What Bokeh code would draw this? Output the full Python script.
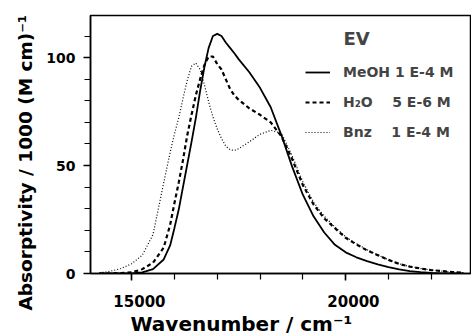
from bokeh.plotting import figure
from bokeh.models import Range1d, FixedTicker, Legend, LegendItem, Label, Title
from bokeh.embed import file_html
from bokeh.resources import INLINE

# Wavenumber grid (cm^-1)
wavenumber = [14250, 14500, 14750, 15000, 15250, 15500, 15750, 15900, 16000, 16100,
              16200, 16300, 16400, 16500, 16600, 16700, 16800, 16900, 17000, 17100,
              17200, 17300, 17400, 17500, 17750, 18000, 18250, 18500, 18750, 19000,
              19250, 19500, 19750, 20000, 20250, 20500, 20750, 21000, 21250, 21500,
              21750, 22000, 22250, 22500, 22750]

# Absorptivity / 1000 (M cm)^-1
meoh = [0.0, 0.0, 0.0, 0.1, 0.5, 2.0, 6.5, 13, 21, 29.5,
        40, 50.5, 61, 72, 84.5, 95.5, 104.5, 110, 111, 110,
        107, 104.5, 102, 99.3, 93.2, 86, 77, 64, 49.5, 36.5,
        26.5, 19, 13.3, 9.8, 7.5, 5.7, 4.2, 3.0, 1.9, 1.1,
        0.6, 0.3, 0.1, 0.0, 0.0]
h2o = [0.0, 0.0, 0.2, 0.5, 2.0, 5.0, 12, 22.5, 32.5, 42,
       52.5, 64, 73.5, 82.5, 90, 96.5, 100.5, 100.5, 97, 94.5,
       90, 85.5, 82.5, 80.5, 76.5, 73.5, 70, 63.5, 53, 41,
       32, 25.5, 21, 16.5, 13.5, 10.7, 8.5, 6.3, 4.4, 3.2,
       2.3, 1.6, 1.1, 0.7, 0.4]
bnz = [0.3, 1.0, 2.3, 4.5, 8.5, 18, 42, 56, 64.5, 72,
       81, 89.5, 96, 97.5, 94.5, 87.5, 79.5, 72.5, 67, 62.5,
       59, 57.3, 57, 57.8, 61, 64.5, 66.3, 65, 54.5, 42.5,
       33, 26.5, 21.5, 17, 13.8, 11, 8.6, 6.4, 4.5, 3.2,
       2.3, 1.6, 1.1, 0.7, 0.4]

series_labels = ["MeOH 1 E-4 M", "H\u2082O\u00a0\u00a0\u00a0\u00a05 E-6 M", "Bnz\u00a0\u00a0\u00a0\u00a01 E-4 M"]
legend_title = "EV"
x_title = "Wavenumber / cm\u207b\u00b9"
y_title = "Absorptivity / 1000 (M cm)\u207b\u00b9"
x_major = [15000, 20000]
x_major_labels = ["15000", "20000"]
x_minor = [14000, 15000, 16000, 17000, 18000, 19000, 20000, 21000, 22000]
y_major = [0, 50, 100]
y_minor = [0, 10, 20, 30, 40, 50, 60, 70, 80, 90, 100, 110]

FONT = "DejaVu Sans"

p = figure(width=471, height=335, output_backend="svg", toolbar_location=None,
           x_range=Range1d(14040, 22940), y_range=Range1d(0, 119.5),
           min_border_left=90, min_border_right=0, min_border_top=15, min_border_bottom=62)
p.background_fill_color = "white"
p.border_fill_color = "white"
p.outline_line_color = "black"
p.outline_line_width = 1.5
p.grid.visible = False

r1 = p.line(wavenumber, meoh, line_color="black", line_width=1.8)
r2 = p.line(wavenumber, h2o, line_color="black", line_width=2.2, line_dash="4 3")
r3 = p.line(wavenumber, bnz, line_color="black", line_width=1.2, line_dash="1 2")

for ax in (p.xaxis[0], p.yaxis[0]):
    ax.axis_line_width = 1.5
    ax.major_tick_line_width = 1.5
    ax.minor_tick_line_width = 1.2
    ax.major_tick_in = 0
    ax.minor_tick_in = 0
    ax.major_tick_out = 7
    ax.minor_tick_out = 6
    ax.major_label_text_font = FONT
    ax.major_label_text_font_style = "bold"
    ax.major_label_text_color = "black"

p.xaxis.major_label_text_font_size = "15px"
p.xaxis.major_label_text_line_height = 0.9
p.yaxis.major_label_text_font_size = "14px"
p.xaxis.ticker = FixedTicker(ticks=x_major, minor_ticks=x_minor)
p.yaxis.ticker = FixedTicker(ticks=y_major, minor_ticks=y_minor)
p.xaxis.major_label_overrides = {t: "\u00a0\u00a0\u00a0" + s for t, s in zip(x_major, x_major_labels)}
p.xaxis.major_label_standoff = 12
p.yaxis.major_label_standoff = 8

# axis titles as side titles (placed off-centre like the original)
yt = Title(text=y_title, align="left", offset=-37, standoff=16,
           text_font=FONT, text_font_style="bold", text_font_size="18.5px", text_color="black")
p.add_layout(yt, "left")
xt = Title(text=x_title, align="left", offset=40, standoff=-4, text_line_height=0.9,
           vertical_align="top",
           text_font=FONT, text_font_style="bold", text_font_size="20px", text_color="black")
p.add_layout(xt, "below")

legend = Legend(items=[LegendItem(label=series_labels[0], renderers=[r1]),
                       LegendItem(label=series_labels[1], renderers=[r2]),
                       LegendItem(label=series_labels[2], renderers=[r3])],
                location=(215, 131), padding=0, margin=0, spacing=10,
                glyph_width=25, glyph_height=20, label_height=20, label_standoff=13,
                label_text_font=FONT, label_text_font_style="bold", label_text_font_size="14px",
                border_line_color=None, background_fill_alpha=0)
p.add_layout(legend)

p.add_layout(Label(x=253, y=246, x_units="screen", y_units="screen", text=legend_title,
                   text_font=FONT, text_font_style="bold", text_font_size="18px",
                   text_baseline="top"))

open("out.html", "w").write(file_html(p, INLINE))
